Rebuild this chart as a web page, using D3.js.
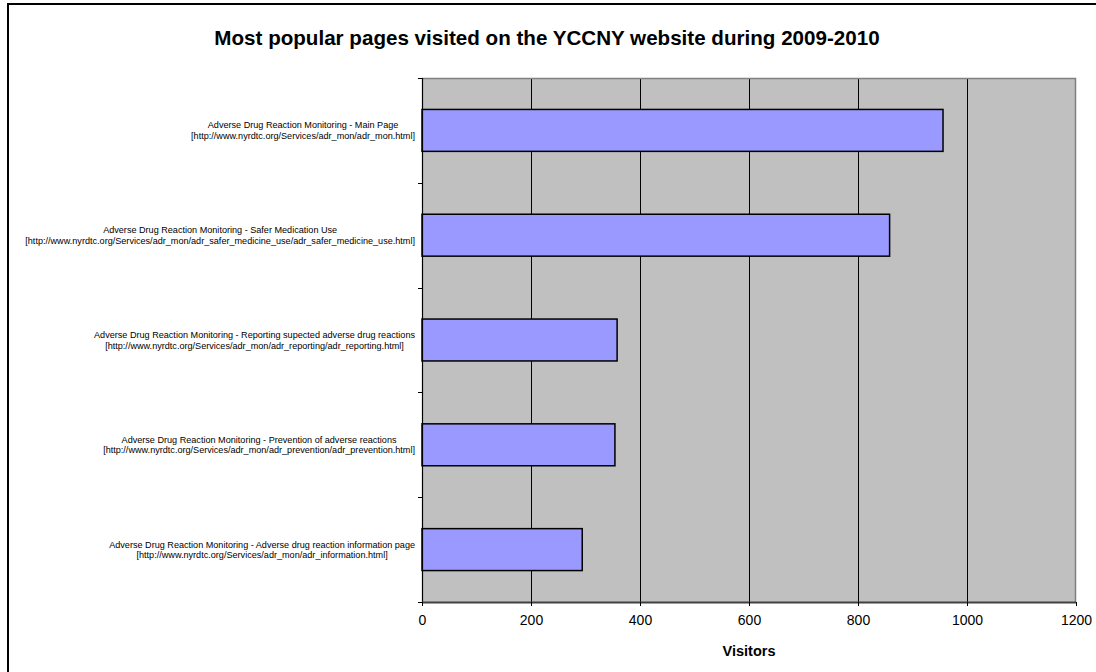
<!DOCTYPE html>
<html>
<head>
<meta charset="utf-8">
<script src="https://cdn.jsdelivr.net/npm/d3@7"></script>
<style>
  html, body { margin: 0; padding: 0; background: #fff; }
  svg { display: block; font-family: "Liberation Sans", Arial, sans-serif; }
</style>
</head>
<body>
<svg id="chart" width="1096" height="672"></svg>
<script>
// ---- data ----
const pageNames = [
  "Adverse Drug Reaction Monitoring - Main Page",
  "Adverse Drug Reaction Monitoring - Safer Medication Use",
  "Adverse Drug Reaction Monitoring - Reporting supected adverse drug reactions",
  "Adverse Drug Reaction Monitoring - Prevention of adverse reactions",
  "Adverse Drug Reaction Monitoring - Adverse drug reaction information page"
];
const pageUrls = [
  "[http://www.nyrdtc.org/Services/adr_mon/adr_mon.html]",
  "[http://www.nyrdtc.org/Services/adr_mon/adr_safer_medicine_use/adr_safer_medicine_use.html]",
  "[http://www.nyrdtc.org/Services/adr_mon/adr_reporting/adr_reporting.html]",
  "[http://www.nyrdtc.org/Services/adr_mon/adr_prevention/adr_prevention.html]",
  "[http://www.nyrdtc.org/Services/adr_mon/adr_information.html]"
];
const visitors = [956, 858, 358, 354, 294];
const xTicks = [0, 200, 400, 600, 800, 1000, 1200];
const titleText = "Most popular pages visited on the YCCNY website during 2009-2010";
const xAxisTitle = "Visitors";

// ---- layout ----
const svg = d3.select("#chart");
const plot = { left: 422, right: 1076, top: 78, bottom: 602 };

// outer frame
svg.append("rect")
  .attr("x", 8).attr("y", 4).attr("width", 1100).attr("height", 700)
  .attr("fill", "#fff").attr("stroke", "#000").attr("stroke-width", 2);

const x = d3.scaleLinear().domain([0, 1200]).range([plot.left, plot.right]);
const y = d3.scaleBand().domain(d3.range(pageNames.length))
  .range([plot.top, plot.bottom]).paddingInner(0.6).paddingOuter(0.3);

// plot background
svg.append("rect")
  .attr("x", plot.left).attr("y", plot.top)
  .attr("width", plot.right - plot.left).attr("height", plot.bottom - plot.top)
  .attr("fill", "#C0C0C0");

// gridlines
svg.append("g").selectAll("line")
  .data(xTicks.filter(t => t > 0 && t < 1200))
  .join("line")
  .attr("x1", d => Math.round(x(d)) + 0.5).attr("x2", d => Math.round(x(d)) + 0.5)
  .attr("y1", plot.top).attr("y2", plot.bottom)
  .attr("stroke", "#000").attr("stroke-width", 1);

// plot border (top & right)
svg.append("path")
  .attr("d", `M${plot.left},${plot.top + 0.5}H${plot.right - 0.5}V${plot.bottom}`)
  .attr("fill", "none").attr("stroke", "#808080").attr("stroke-width", 1.5);

// bars
svg.append("g").selectAll("rect")
  .data(visitors)
  .join("rect")
  .attr("x", x(0))
  .attr("y", (d, i) => y(i))
  .attr("width", d => x(d) - x(0))
  .attr("height", y.bandwidth())
  .attr("fill", "#9999FF")
  .attr("stroke", "#000").attr("stroke-width", 1.5);

// y axis (category boundaries as ticks)
const boundaries = d3.range(pageNames.length + 1).map(i => plot.top + i * (plot.bottom - plot.top) / pageNames.length);
svg.append("line")
  .attr("x1", plot.left + 0.5).attr("x2", plot.left + 0.5)
  .attr("y1", plot.top).attr("y2", plot.bottom)
  .attr("stroke", "#000").attr("stroke-width", 1.2);
svg.append("g").selectAll("line")
  .data(boundaries)
  .join("line")
  .attr("x1", plot.left - 4).attr("x2", plot.left)
  .attr("y1", d => Math.round(d) + 0.5).attr("y2", d => Math.round(d) + 0.5)
  .attr("stroke", "#000").attr("stroke-width", 1);

// x axis
const xAxisG = svg.append("g")
  .attr("transform", `translate(0,${plot.bottom})`)
  .call(d3.axisBottom(x).tickValues(xTicks).tickSize(4).tickPadding(9).tickFormat(d3.format("d")));
xAxisG.select(".domain").attr("stroke", "#404040").attr("stroke-width", 2.2)
  .attr("d", `M${plot.left},0.5H${plot.right}`);
xAxisG.selectAll(".tick line").attr("stroke", "#000");
xAxisG.selectAll(".tick text")
  .attr("font-family", "'Liberation Sans', Arial, sans-serif")
  .attr("font-size", 14).attr("fill", "#000");

// category labels
const labelRight = 415;
const labels = svg.append("g").attr("font-size", 9.1).attr("fill", "#000");
pageNames.forEach((name, i) => {
  const cy = y(i) + y.bandwidth() / 2;
  const t = labels.append("text").attr("text-anchor", "middle");
  const l1 = t.append("tspan").attr("y", cy - 2).text(name);
  const l2 = t.append("tspan").attr("y", cy + 8.5).text(pageUrls[i]);
  const w = Math.max(l1.node().getComputedTextLength(), l2.node().getComputedTextLength());
  const cx = labelRight - w / 2;
  l1.attr("x", cx); l2.attr("x", cx);
});

// title
svg.append("text")
  .attr("x", 547).attr("y", 45)
  .attr("text-anchor", "middle")
  .attr("font-size", 20.6).attr("font-weight", "bold")
  .text(titleText);

// x axis title
svg.append("text")
  .attr("x", (plot.left + plot.right) / 2).attr("y", 656)
  .attr("text-anchor", "middle")
  .attr("font-size", 14.5).attr("font-weight", "bold")
  .text(xAxisTitle);
</script>
</body>
</html>
